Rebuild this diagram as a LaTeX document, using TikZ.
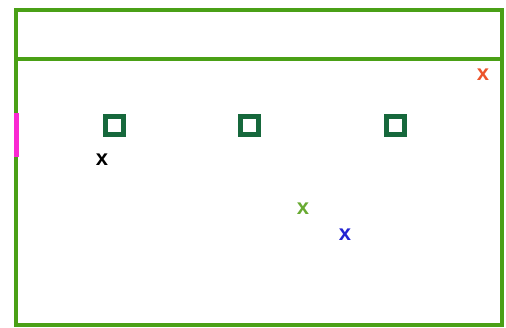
\documentclass[tikz,border=0pt]{standalone}
\usepackage{fontspec}
\setmainfont{Liberation Sans}
\definecolor{framegreen}{RGB}{74,160,22}
\definecolor{boxgreen}{RGB}{22,104,60}
\definecolor{barpink}{RGB}{250,40,210}
\definecolor{xred}{RGB}{236,84,44}
\definecolor{xgreen}{RGB}{104,170,50}
\definecolor{xblue}{RGB}{36,36,210}

\begin{document}
\begin{tikzpicture}[x=1pt, y=-1pt,
	every node/.style={font=\fontsize{22}{22}\selectfont\bfseries, inner sep=0pt},
	box/.style={draw=boxgreen, line width=5pt, minimum size=18pt}]
	\useasboundingbox (0,0) rectangle (506,327);
	\draw[framegreen, line width=4pt] (16,10) rectangle (502,325);
	\draw[framegreen, line width=4pt] (16,59) -- (502,59);
	\draw[barpink, line width=5pt] (16,113) -- (16,157);
	\foreach \n/\x in {a/114,b/249,c/395} {\node[box] (sq\n) at (\x,125) {};}
	\node[text=black] (xblack) at (102,160) {x};
	\node[text=xred] (xred) at (483,75) {x};
	\node[text=xgreen] (xgreen) at (303,209) {x};
	\node[text=xblue] (xblue) at (345,235) {x};
\end{tikzpicture}
\end{document}
